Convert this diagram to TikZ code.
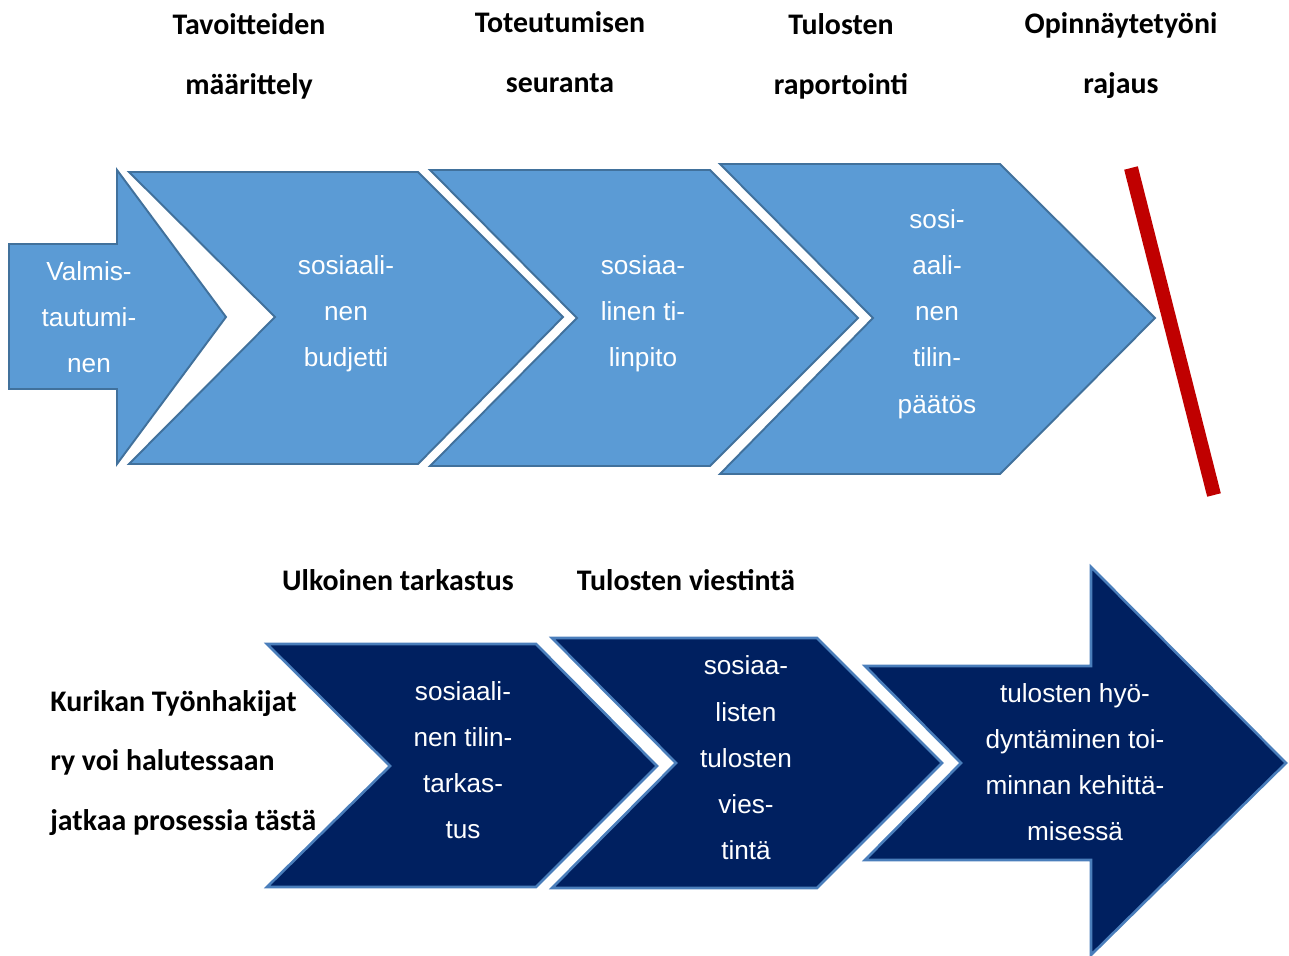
\documentclass[tikz,border=0pt]{standalone}
\usepackage{fontspec}
\setmainfont{Liberation Sans}
\newfontfamily\phasefont{Carlito}

\definecolor{stepblue}{HTML}{5B9BD5}
\definecolor{stepedge}{HTML}{41719C}
\definecolor{stepnavy}{HTML}{002060}
\definecolor{navyedge}{HTML}{4A7EBB}
\definecolor{cutred}{HTML}{C00000}

\tikzset{
  lightstep/.style={fill=stepblue, draw=stepedge, line width=1.1pt, line join=miter},
  darkstep/.style={fill=stepnavy, draw=navyedge, line width=1.5pt, line join=miter},
  steptext/.style={text=white, align=center, inner sep=0pt, font=\fontsize{14.9}{26.3}\selectfont},
  phasetext/.style={align=center, inner sep=0pt, font=\phasefont\bfseries\fontsize{17}{34.1}\selectfont},
}

\begin{document}
\begin{tikzpicture}[x=0.02cm, y=-0.02cm]
\useasboundingbox (0,0) rectangle (1289,956);

% Phase labels (top)
\node[phasetext] (goals) at (249,56) {Tavoitteiden\\määrittely};
\node[phasetext] (follow) at (560,52) {Toteutumisen\\seuranta};
\node[phasetext] (report) at (841,56) {Tulosten\\raportointi};
\node[phasetext] (limit) at (1121,56) {Opinnäytetyöni\\rajaus};

% Top row steps
\draw[lightstep] (9,244) -- (117,244) -- (117,170) -- (226,317) -- (117,464) -- (117,389) -- (9,389) -- cycle;
\draw[lightstep] (129,172) -- (418,172) -- (563,317) -- (418,464) -- (129,464) -- (275,317) -- cycle;
\draw[lightstep] (430,170) -- (710,170) -- (858,318) -- (710,466) -- (430,466) -- (577,318) -- cycle;
\draw[lightstep] (720,164) -- (1000,164) -- (1155,318) -- (1000,474) -- (720,474) -- (873,318) -- cycle;

\node[steptext] (prep) at (89,317) {Valmis-\\tautumi-\\nen};
\node[steptext] (budget) at (346,314) {sosiaali-\\nen\\budjetti};
\node[steptext] (books) at (643,314) {sosiaa-\\linen ti-\\linpito};
\node[steptext] (closing) at (937,314) {sosi-\\aali-\\nen\\tilin-\\päätös};

% Scope cut
\draw[cutred, line width=8pt] (1131,168) -- (1214,495);

% Phase labels (bottom)
\node[phasetext] (audit) at (398,580) {Ulkoinen tarkastus};
\node[phasetext] (comm) at (686,580) {Tulosten viestintä};
\node[phasetext, align=left, anchor=west] (cont) at (50,763) {Kurikan Työnhakijat\\ry voi halutessaan\\jatkaa prosessia tästä};

% Bottom row steps
\draw[darkstep] (267,644) -- (536,644) -- (657,766) -- (536,887) -- (267,887) -- (390,766) -- cycle;
\draw[darkstep] (552,638) -- (817,638) -- (942,763) -- (817,888) -- (552,888) -- (676,763) -- cycle;
\draw[darkstep] (865,666) -- (1091,666) -- (1091,567) -- (1286,763) -- (1091,955) -- (1091,860) -- (865,860) -- (961,763) -- cycle;

\node[steptext] (tarkastus) at (463,760) {sosiaali-\\nen tilin-\\tarkas-\\tus};
\node[steptext] (viestinta) at (746,758) {sosiaa-\\listen\\tulosten\\vies-\\tintä};
\node[steptext] (kehitys) at (1075,762) {tulosten hyö-\\dyntäminen toi-\\minnan kehittä-\\misessä};

\end{tikzpicture}
\end{document}
